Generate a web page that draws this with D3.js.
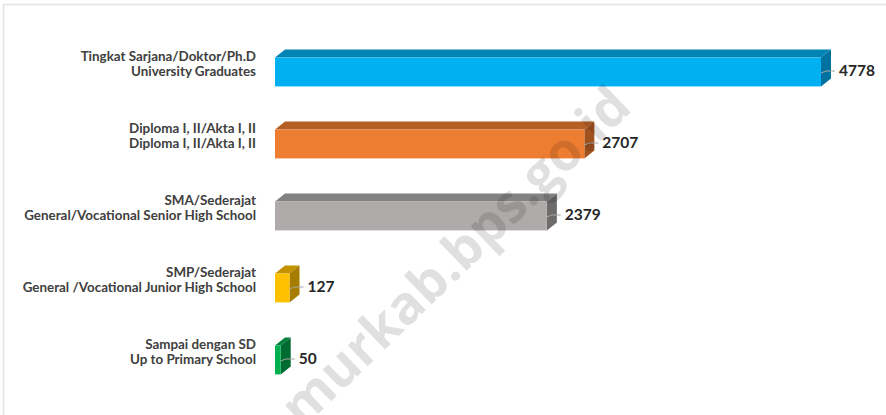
<!DOCTYPE html>
<html>
<head>
<meta charset="utf-8">
<script src="https://cdn.jsdelivr.net/npm/d3@7"></script>
<style>
  body { margin: 0; background: #fff; }
  svg { display: block; }
</style>
</head>
<body>
<svg id="chart" width="886" height="415"></svg>
<script>
// data
var labelsTop = ["Tingkat Sarjana/Doktor/Ph.D", "Diploma I, II/Akta I, II", "SMA/Sederajat", "SMP/Sederajat", "Sampai dengan SD"];
var labelsBottom = ["University Graduates", "Diploma I, II/Akta I, II", "General/Vocational Senior High School", "General /Vocational Junior High School", "Up to Primary School"];
var values = [4778, 2707, 2379, 127, 50];

// colours: front, top, side
var fronts = ["#00b0f0", "#ed7d31", "#aeaaaa", "#ffc000", "#00b050"];
var tops   = ["#0084b4", "#b55f25", "#848181", "#c29200", "#00803a"];
var sides  = ["#0072a0", "#a0521f", "#6e6b6b", "#a67d00", "#006b30"];

var svg = d3.select("#chart"),
    depthX = 10, depthY = 8;

// chart frame
svg.append("rect")
    .attr("x", 3.5).attr("y", 4.5)
    .attr("width", 1000).attr("height", 600)
    .attr("fill", "none")
    .attr("stroke", "#e3e3e3")
    .attr("stroke-width", 1.5);

var x = d3.scaleLinear()
    .domain([0, d3.max(values)])
    .range([275, 821]);

var y = d3.scaleBand()
    .domain(d3.range(values.length))
    .range([36, 396])
    .paddingInner(0.6)
    .paddingOuter(0.3);

var bar = svg.append("g").selectAll("g")
  .data(values)
  .enter().append("g");

// top face
bar.append("path")
    .attr("d", function(d, i) {
      var x0 = x(0), x1 = x(d), y0 = y(i);
      return "M" + x0 + "," + y0 + "L" + (x0 + depthX) + "," + (y0 - depthY) +
             "L" + (x1 + depthX) + "," + (y0 - depthY) + "L" + x1 + "," + y0 + "Z";
    })
    .attr("fill", function(d, i) { return tops[i]; });

// side face
bar.append("path")
    .attr("d", function(d, i) {
      var x1 = x(d), y0 = y(i), y1 = y(i) + y.bandwidth();
      return "M" + x1 + "," + y0 + "L" + (x1 + depthX) + "," + (y0 - depthY) +
             "L" + (x1 + depthX) + "," + (y1 - depthY) + "L" + x1 + "," + y1 + "Z";
    })
    .attr("fill", function(d, i) { return sides[i]; });

// front face
bar.append("rect")
    .attr("x", x(0))
    .attr("y", function(d, i) { return y(i); })
    .attr("width", function(d) { return x(d) - x(0); })
    .attr("height", y.bandwidth())
    .attr("fill", function(d, i) { return fronts[i]; });

// leader lines
bar.append("path")
    .attr("d", function(d, i) {
      var cy = y(i) + y.bandwidth() / 2, x1 = x(d);
      return "M" + x1 + "," + (cy + 1) + "L" + (x1 + 5) + "," + (cy - 1) + "L" + (x1 + 14) + "," + (cy - 1);
    })
    .attr("fill", "none")
    .attr("stroke", "#a6a6a6")
    .attr("stroke-width", 1);

// value labels
bar.append("text")
    .attr("x", function(d) { return x(d) + 18; })
    .attr("y", function(d, i) { return y(i) + y.bandwidth() / 2 - 1; })
    .attr("dy", "0.35em")
    .attr("font-family", "Lato, sans-serif")
    .attr("font-weight", "bold")
    .attr("font-size", 15.5)
    .attr("fill", "#262626")
    .text(function(d) { return d; });

// category labels
var cat = svg.append("g")
    .attr("font-family", "Lato, sans-serif")
    .attr("font-weight", "bold")
    .attr("font-size", 13.4)
    .attr("fill", "#404040")
    .attr("text-anchor", "end")
  .selectAll("text")
  .data(values)
  .enter().append("text")
    .attr("x", 256)
    .attr("y", function(d, i) { return y(i) + y.bandwidth() / 2 - 16; })
    .attr("dy", "0.35em");

cat.append("tspan")
    .attr("x", 256)
    .text(function(d, i) { return labelsTop[i]; });
cat.append("tspan")
    .attr("x", 256)
    .attr("dy", 15.5)
    .text(function(d, i) { return labelsBottom[i]; });

// watermark
svg.append("text")
    .attr("transform", "translate(455,256) rotate(-44)")
    .attr("text-anchor", "middle")
    .attr("dy", "0.35em")
    .attr("font-family", "'Open Sans', sans-serif")
    .attr("font-weight", "bold")
    .attr("font-size", 53)
    .attr("fill", "#000")
    .attr("fill-opacity", 0.12)
    .text("murkab.bps.go.id");
</script>
</body>
</html>
